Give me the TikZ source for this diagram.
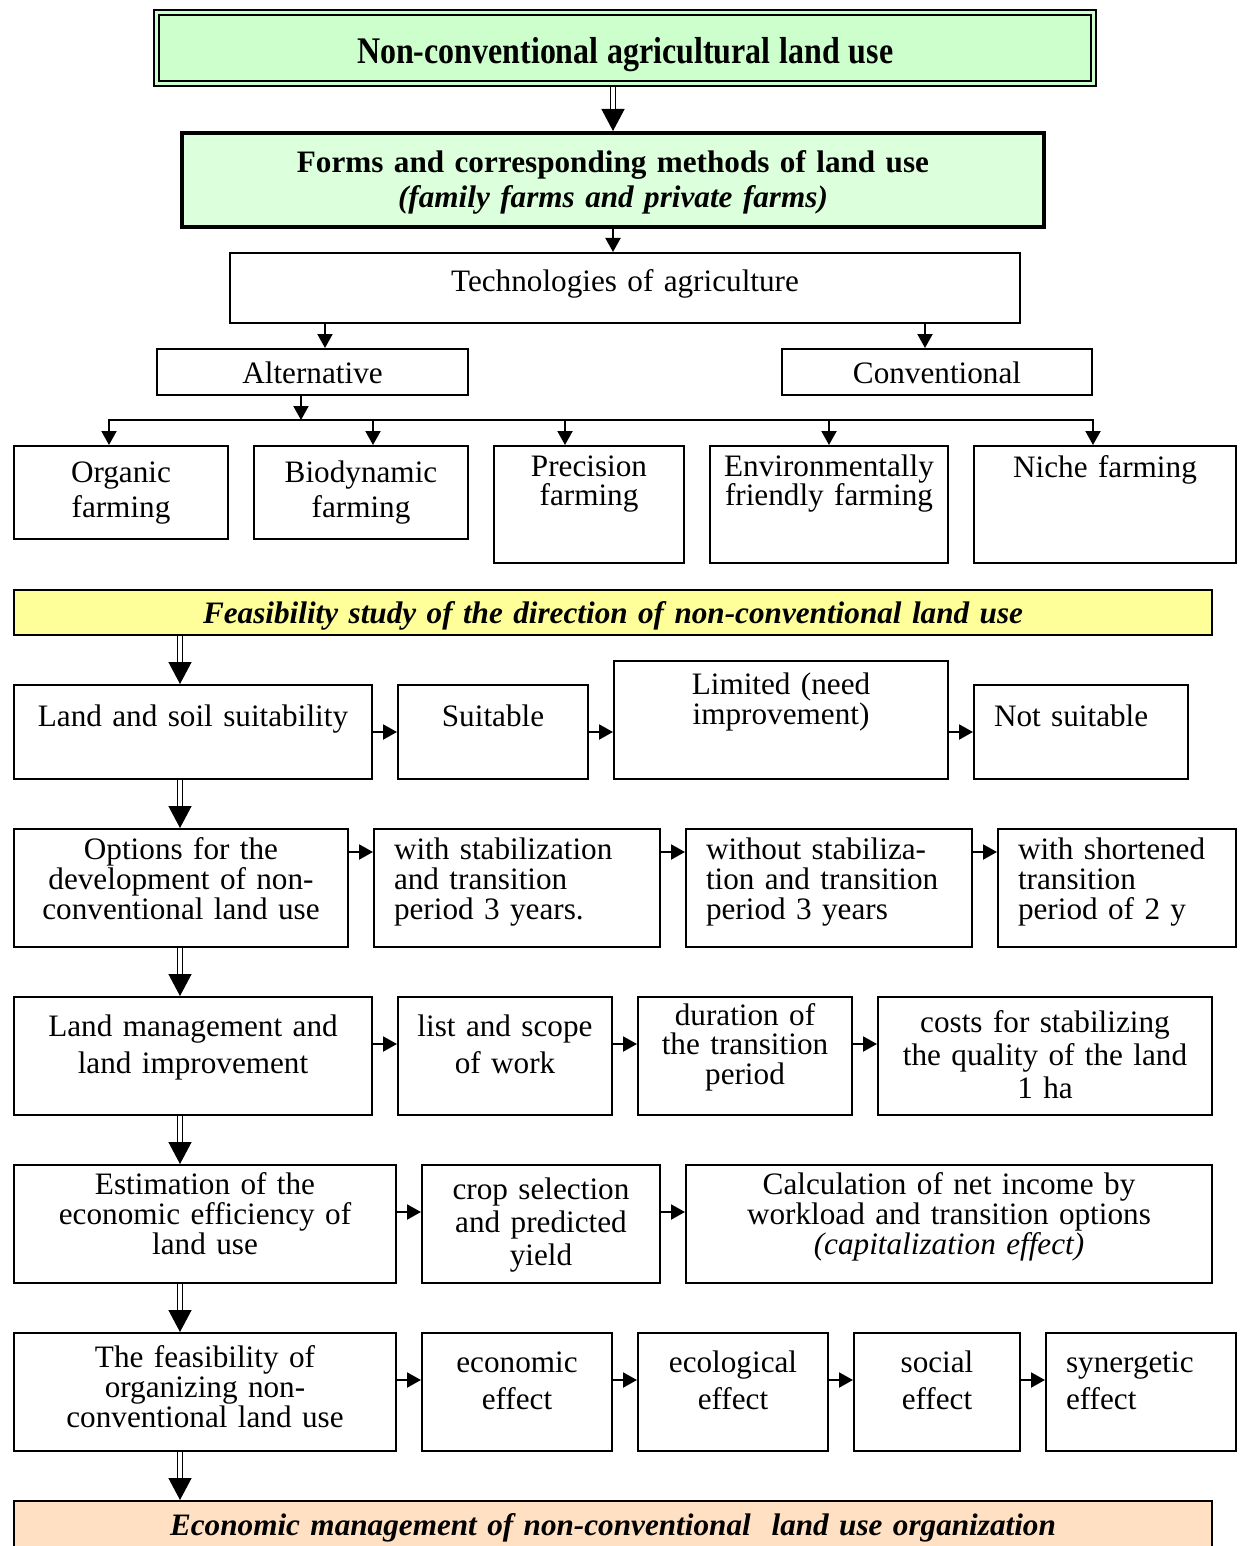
\documentclass[tikz,border=0pt]{standalone}
\usepackage{fontspec}
\setmainfont{Liberation Serif}
\usepackage{graphicx}
\usetikzlibrary{arrows.meta}

\newlength\px \setlength\px{0.5pt}
\newcommand\boxfont[1]{\fontsize{15.6}{#1}\selectfont\lineskiplimit=-20pt\relax}
\definecolor{titlegreen}{HTML}{CCFFCC}
\definecolor{formsgreen}{HTML}{DCFFDC}
\definecolor{feasyellow}{HTML}{FFFF99}
\definecolor{mgmtpeach}{HTML}{FFE0C2}

\tikzset{
  cell/.style n args={3}{draw, line width=1pt, anchor=north west, inner sep=0pt,
    align=center, text width=#1\px, text height=#2\px, text depth=#3\px,
    font=\boxfont{15pt}},
  lcell/.style={align=left, inner xsep=20\px},
  arr/.style={line width=1pt, -{Triangle[length=7pt,width=7.5pt]}},
  dblarr/.style={line width=0.7pt, -{Triangle[length=11pt,width=11.5pt]},
    postaction={draw, -, double, double distance=1.6pt, shorten >=11pt}},
}

\begin{document}
\begin{tikzpicture}[x=0.5pt, y=-0.5pt] %---- scheme of land use
\useasboundingbox (0,0) rectangle (1244,1546);
\clip (0,0) rectangle (1244,1546);
%---- head boxes
\node[cell={937}{50.5}{20.5}, line width=1.1pt, double=titlegreen, double distance=1.5pt,
  fill=titlegreen, outer sep=1.85pt] (title) at (153,9)
  {\scalebox{0.85}[1]{\fontsize{18.8}{22}\selectfont\bfseries Non-conventional agricultural land use}};
\node[cell={862}{40}{54}, line width=2pt, fill=formsgreen, font=\boxfont{17.5pt}] (forms) at (180,131)
  {\textbf{Forms and corresponding methods of land use}\\\textbf{\textit{(family farms and private farms)}}};
\node[cell={790}{39}{31}] (techn) at (229,252) {Technologies of agriculture};
\node[cell={311}{34}{12}] (alt) at (156,348) {Alternative};
\node[cell={310}{34}{12}] (conv) at (781,348) {Conventional};
%---- kinds of farming
\node[cell={214}{36}{57}, font=\boxfont{17.5pt}] (organic) at (13,445) {Organic\\farming};
\node[cell={214}{36}{57}, font=\boxfont{17.5pt}] (biodyn) at (253,445) {Biodynamic\\farming};
\node[cell={190}{30}{87}, font=\boxfont{14.75pt}] (precis) at (493,445) {Precision\\farming};
\node[cell={238}{30}{87}, font=\boxfont{14.75pt}] (envir) at (709,445) {Environmentally\\friendly farming};
\node[cell={262}{31}{86}] (niche) at (973,445) {Niche farming};
%---- feasibility study
\node[cell={1198}{33}{12}, fill=feasyellow] (feas) at (13,589)
  {\textbf{\textit{Feasibility study of the direction of non-conventional land use}}};
%---- row 1
\node[cell={358}{41}{53}] (land) at (13,684) {Land and soil suitability};
\node[cell={190}{41}{53}] (suit) at (397,684) {Suitable};
\node[cell={334}{33}{85}] (limit) at (613,660) {Limited (need\\improvement)};
\node[cell={174}{41}{53}, lcell] (notsuit) at (973,684) {Not suitable};
%---- row 2
\node[cell={334}{30}{88}] (options) at (13,828) {Options for the\\development of non-\\conventional land use};
\node[cell={246}{30}{88}, lcell] (stab) at (373,828) {with stabilization\\and transition\\period 3 years.};
\node[cell={246}{30}{88}, lcell] (nostab) at (685,828) {without stabiliza-\\tion and transition\\period 3 years};
\node[cell={198}{30}{88}, lcell] (short) at (997,828) {with shortened\\transition\\period of 2 y};
%---- row 3
\node[cell={358}{39}{79}, font=\boxfont{18.5pt}] (mgmt) at (13,996) {Land management and\\land improvement};
\node[cell={214}{39}{79}, font=\boxfont{18.5pt}] (scope) at (397,996) {list and scope\\of work};
\node[cell={214}{28}{90}, font=\boxfont{14.75pt}] (duration) at (637,996) {duration of\\the transition\\period};
\node[cell={334}{35}{83}, font=\boxfont{16.5pt}] (costs) at (877,996) {costs for stabilizing\\the quality of the land\\1 ha};
%---- row 4
\node[cell={382}{29}{89}] (estim) at (13,1164) {Estimation of the\\economic efficiency of\\land use};
\node[cell={238}{34}{84}, font=\boxfont{16.5pt}] (crop) at (421,1164) {crop selection\\and predicted\\yield};
\node[cell={526}{29}{89}] (calc) at (685,1164)
  {Calculation of net income by\\workload and transition options\\\textit{(capitalization effect)}};
%---- row 5
\node[cell={382}{34}{84}] (feasib) at (13,1332) {The feasibility of\\organizing non-\\conventional land use};
\node[cell={190}{39}{79}, font=\boxfont{18.5pt}] (econ) at (421,1332) {economic\\effect};
\node[cell={190}{39}{79}, font=\boxfont{18.5pt}] (ecol) at (637,1332) {ecological\\effect};
\node[cell={166}{39}{79}, font=\boxfont{18.5pt}] (social) at (853,1332) {social\\effect};
\node[cell={150}{39}{79}, lcell, font=\boxfont{18.5pt}] (synerg) at (1045,1332) {synergetic\\effect};
%---- economic management
\node[cell={1198}{34}{70}, fill=mgmtpeach] (manage) at (13,1500)
  {\textbf{\textit{Economic management of non-conventional~~land use organization}}};

%---- connectors
\coordinate (mid) at (613,0);
\coordinate (spine) at (180,0);
\coordinate (ta) at (325,0);
\coordinate (tc) at (925,0);
\coordinate (bus) at (301,420);
\draw[dblarr] (title.south -| mid) -- (forms.north -| mid);
\draw[arr] (forms.south -| mid) -- (techn.north -| mid);
\draw[arr] (techn.south -| ta) -- (alt.north -| ta);
\draw[arr] (techn.south -| tc) -- (conv.north -| tc);
\draw[arr] (alt.south -| bus) -- (bus);
\draw[line width=1pt, line cap=rect] (109,0 |- bus) -- (1093,0 |- bus); % --- bus
\foreach \x/\n in {109/organic, 373/biodyn, 565/precis, 829/envir, 1093/niche}
  \draw[arr] (\x,0 |- bus) -- (\n.north -| \x,0);
% --- main line
\foreach \a/\b in {feas/land, land/options, options/mgmt, mgmt/estim, estim/feasib, feasib/manage}
  \draw[dblarr] (\a.south -| spine) -- (\b.north -| spine);
% --- rows
\coordinate (r2) at (0,852);
\coordinate (r3) at (0,1044);
\coordinate (r4) at (0,1212);
\coordinate (r5) at (0,1380);
\draw[arr] (land.east) -- (suit.west);
\draw[arr] (suit.east) -- (suit.east -| limit.west);
\draw[arr] (limit.east |- notsuit.west) -- (notsuit.west);
\foreach \a/\b in {options/stab, stab/nostab, nostab/short}
  \draw[arr] (\a.east |- r2) -- (\b.west |- r2);
\foreach \a/\b in {mgmt/scope, scope/duration, duration/costs}
  \draw[arr] (\a.east |- r3) -- (\b.west |- r3);
\foreach \a/\b in {estim/crop, crop/calc}
  \draw[arr] (\a.east |- r4) -- (\b.west |- r4);
\foreach \a/\b in {feasib/econ, econ/ecol, ecol/social, social/synerg}
  \draw[arr] (\a.east |- r5) -- (\b.west |- r5);
\end{tikzpicture}
\end{document}
